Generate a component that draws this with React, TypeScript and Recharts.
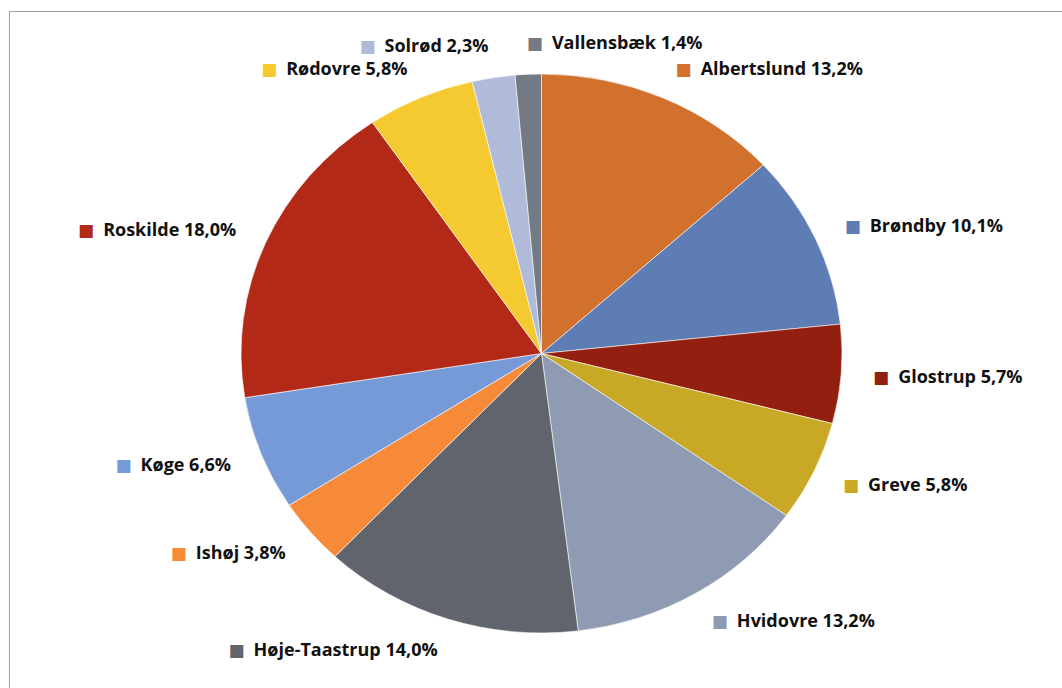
import { Pie, PieChart } from 'recharts'

const names = ['Albertslund', 'Brøndby', 'Glostrup', 'Greve', 'Hvidovre', 'Høje-Taastrup', 'Ishøj', 'Køge', 'Roskilde', 'Rødovre', 'Solrød', 'Vallensbæk']
const shares = [13.2, 10.1, 5.7, 5.8, 13.2, 14.0, 3.8, 6.6, 18.0, 5.8, 2.3, 1.4]
const colors = ['#D2702E', '#5F7DB5', '#931F10', '#C9A826', '#8F9BB3', '#60656D', '#F68A38', '#7699D8', '#B22A17', '#F4CA30', '#AFBBD9', '#737A84']

const data = names.map((name, i) => ({ name, value: shares[i], fill: colors[i] }))

const RAD = Math.PI / 180
const SQUASH = 279.5 / 300.5

// excel chart is slightly squashed vertically, so draw slices as ellipse sectors
function EllipseSlice(props: any) {
  const { cx, cy, outerRadius, startAngle, endAngle, fill } = props
  const rx = outerRadius
  const ry = outerRadius * SQUASH
  const a0 = -startAngle * RAD
  const a1 = -endAngle * RAD
  const x0 = cx + rx * Math.cos(a0)
  const y0 = cy + ry * Math.sin(a0)
  const x1 = cx + rx * Math.cos(a1)
  const y1 = cy + ry * Math.sin(a1)
  const large = Math.abs(endAngle - startAngle) > 180 ? 1 : 0
  const sweep = startAngle > endAngle ? 1 : 0
  return <path d={`M${cx},${cy}L${x0},${y0}A${rx},${ry} 0 ${large} ${sweep} ${x1},${y1}Z`} fill={fill} stroke="#ffffff" strokeWidth={0.6} />
}

function SliceLabel(props: any) {
  const { cx, cy, midAngle, outerRadius, index } = props
  const d = 32
  const a = -midAngle * RAD
  const px = cx + (outerRadius + d) * Math.cos(a)
  const py = cy + (outerRadius * SQUASH + d) * Math.sin(a)
  const right = px >= cx - 25
  const text = `${names[index]} ${shares[index].toFixed(1).replace('.', ',')}%`
  return (
    <text x={px} y={py} dy="0.35em" textAnchor={right ? 'start' : 'end'} fontFamily="'Open Sans', sans-serif" fontWeight={700} fontSize={18} fill="#111">
      <tspan fill={colors[index]} fontFamily="'DejaVu Sans'" fontSize={17}>■</tspan>
      <tspan dx={9}>{text}</tspan>
    </text>
  )
}

export default function App() {
  return (
    <div style={{ position: 'fixed', left: 0, top: 0, width: 1062, height: 688, overflow: 'hidden', background: '#fff' }}>
      <div style={{ position: 'absolute', left: 9, top: 11, width: 1100, height: 720, border: '1px solid #a3a3a3' }} />
      <div style={{ position: 'absolute', left: 0, top: 0 }}>
        <PieChart width={1062} height={688} margin={{ top: 0, right: 0, bottom: 0, left: 0 }}>
          <Pie
            data={data}
            dataKey="value"
            nameKey="name"
            cx={541.5}
            cy={353.5}
            outerRadius={300.5}
            startAngle={90}
            endAngle={-270}
            shape={EllipseSlice}
            activeShape={EllipseSlice}
            inactiveShape={EllipseSlice}
            label={SliceLabel}
            labelLine={false}
            isAnimationActive={false}
          />
        </PieChart>
      </div>
    </div>
  )
}
